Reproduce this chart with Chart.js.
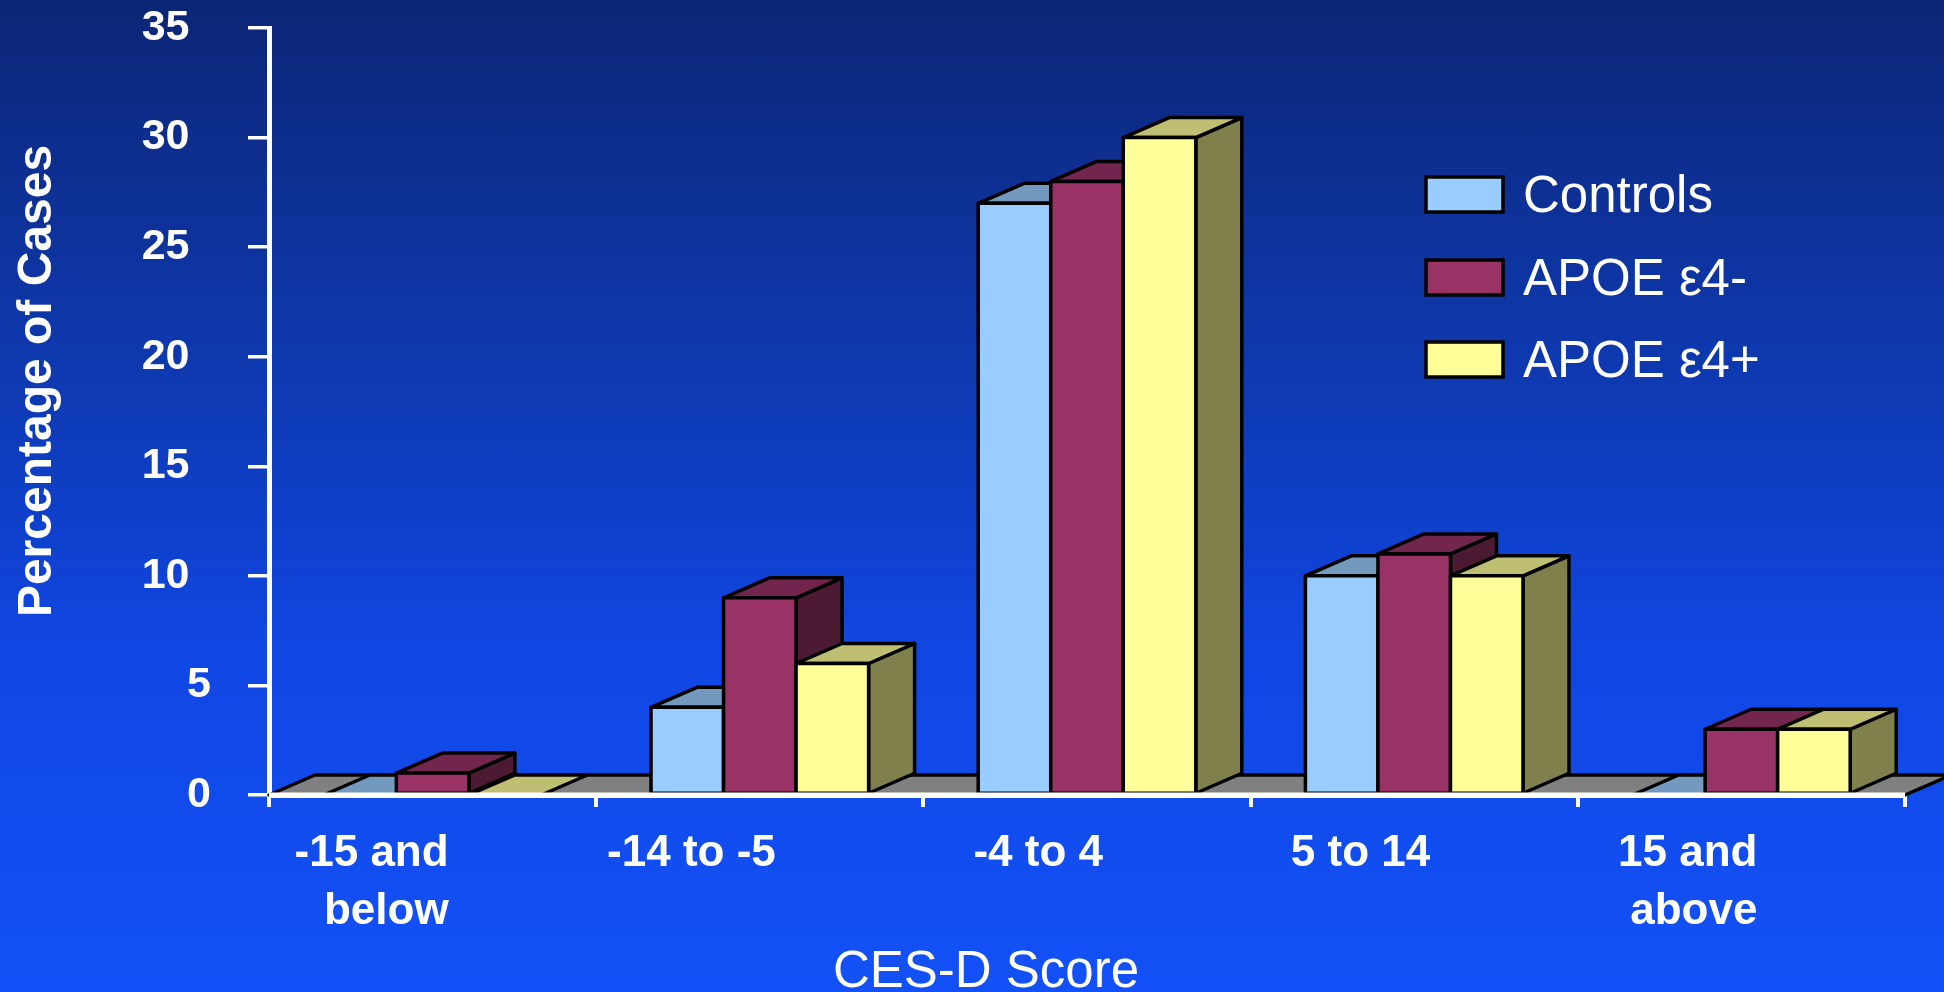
<!DOCTYPE html>
<html><head><meta charset="utf-8">
<script src="https://cdn.jsdelivr.net/npm/chart.js@4.4.1/dist/chart.umd.min.js"></script>
<style>
html,body{margin:0;padding:0;width:1944px;height:992px;overflow:hidden;
background:linear-gradient(to bottom,#0b2575 0%,#0d2e8e 15%,#0e3ab4 40%,#1046e2 65%,#1351f8 100%);}
canvas{display:block}
</style></head><body>
<canvas id="c" width="1944" height="992"></canvas>
<script>
// ---- data ----
const categories = [['-15 and','below'], '-14 to -5', '-4 to 4', '5 to 14', ['15 and','above']];
const seriesNames = ['Controls', 'APOE \u03b54-', 'APOE \u03b54+'];
const controls = [0, 4, 27, 10, 0];
const apoeNeg  = [1, 9, 28, 11, 3];
const apoePos  = [0, 6, 30, 10, 3];
const yMin = 0, yMax = 35, yStep = 5;
const xTitle = 'CES-D Score';
const yTitle = 'Percentage of Cases';

// ---- styles ----
const FONT = '"Liberation Sans", Arial, sans-serif';
const frontColors = ['#99ccff', '#993366', '#ffff99'];
const topColors   = ['#7399bf', '#73264d', '#bfbf73'];
const sideColors  = ['#4d6680', '#4d1a33', '#80804d'];
const floorColor = '#808080';
const DX = 46, DY = 20;

Chart.defaults.font.family = FONT;

function poly(ctx, pts, fill) {
  ctx.beginPath();
  ctx.moveTo(pts[0][0], pts[0][1]);
  for (let i = 1; i < pts.length; i++) ctx.lineTo(pts[i][0], pts[i][1]);
  ctx.closePath();
  ctx.fillStyle = fill; ctx.fill();
  ctx.stroke();
}

const bar3d = {
  id: 'bar3d',
  afterDatasetsDraw(chart) {
    const ctx = chart.ctx, ca = chart.chartArea, ys = chart.scales.y;
    const y0 = ys.getPixelForValue(0);
    ctx.save();
    ctx.lineWidth = 3.5; ctx.lineJoin = 'round'; ctx.strokeStyle = '#000';
    // floor
    poly(ctx, [[ca.left, y0], [ca.right, y0], [ca.right + DX, y0 - DY], [ca.left + DX, y0 - DY]], floorColor);
    const n = chart.data.labels.length;
    const bars = [];
    for (let c = 0; c < n; c++) {
      chart.data.datasets.forEach((ds, d) => {
        const el = chart.getDatasetMeta(d).data[c];
        const l = el.x - el.width / 2, r = el.x + el.width / 2;
        bars.push({d, l, r, t: el.y, b: el.base});
      });
    }
    bars.forEach(o => {
      if (o.b - o.t > 0.5) poly(ctx, [[o.r, o.b], [o.r + DX, o.b - DY], [o.r + DX, o.t - DY], [o.r, o.t]], sideColors[o.d]);
      poly(ctx, [[o.l, o.t], [o.r, o.t], [o.r + DX, o.t - DY], [o.l + DX, o.t - DY]], topColors[o.d]);
    });
    bars.forEach(o => {
      if (o.b - o.t > 0.5) poly(ctx, [[o.l, o.b], [o.r, o.b], [o.r, o.t], [o.l, o.t]], frontColors[o.d]);
    });
    // x axis line over bars
    ctx.strokeStyle = '#fff'; ctx.lineWidth = 5;
    ctx.beginPath(); ctx.moveTo(ca.left, y0); ctx.lineTo(ca.right, y0); ctx.stroke();
    ctx.restore();
  },
  afterDraw(chart) {
    const ctx = chart.ctx;
    ctx.save();
    ctx.fillStyle = '#fff';
    // axis titles
    ctx.font = '51px ' + FONT;
    ctx.textAlign = 'center'; ctx.textBaseline = 'alphabetic';
    ctx.fillText(xTitle, 986, 987);
    ctx.save();
    ctx.translate(51, 381); ctx.rotate(-Math.PI / 2);
    ctx.font = 'bold 48px ' + FONT;
    ctx.fillText(yTitle, 0, 0);
    ctx.restore();
    // legend
    const rows = [194, 277, 359];
    chart.data.datasets.forEach((ds, i) => {
      const cy = rows[i];
      ctx.fillStyle = ds.backgroundColor;
      ctx.strokeStyle = '#000'; ctx.lineWidth = 3.5;
      ctx.fillRect(1426, cy - 17, 77, 35);
      ctx.strokeRect(1426, cy - 17, 77, 35);
      ctx.fillStyle = '#fff';
      ctx.font = '51px ' + FONT;
      ctx.textAlign = 'left'; ctx.textBaseline = 'alphabetic';
      ctx.fillText(ds.label, 1523, cy + 18);
    });
    ctx.restore();
  }
};

const seriesValues = [controls, apoeNeg, apoePos];
new Chart(document.getElementById('c'), {
  type: 'bar',
  data: {
    labels: categories,
    datasets: seriesNames.map((name, i) => ({
      label: name,
      data: seriesValues[i],
      backgroundColor: frontColors[i],
      borderWidth: 0,
      categoryPercentage: 0.665,
      barPercentage: 1
    }))
  },
  options: {
    responsive: false,
    animation: false,
    events: [],
    devicePixelRatio: 1,
    layout: { padding: { top: 28, right: 39, left: 0, bottom: 0 } },
    plugins: { legend: { display: false }, tooltip: { enabled: false } },
    scales: {
      x: {
        offset: true,
        grid: { offset: true, drawOnChartArea: false, color: '#fff', lineWidth: 4, tickLength: 12 },
        border: { color: '#fff', width: 5 },
        ticks: {
          color: '#fff', font: { size: 44, weight: 'bold', lineHeight: 1.32 },
          align: 'end', labelOffset: 16, padding: 18, maxRotation: 0, autoSkip: false
        },
        afterFit(s) { s.height = 197; s.paddingLeft = 0; s.paddingRight = 0; }
      },
      y: {
        min: yMin, max: yMax,
        grid: { drawOnChartArea: false, color: '#fff', lineWidth: 3.5, tickLength: 21 },
        border: { color: '#fff', width: 5 },
        ticks: {
          stepSize: yStep, color: '#fff', font: { size: 43, weight: 'bold' }, padding: 37,
          callback: v => (v >= 10 ? v + '\u2002' : String(v))
        },
        afterFit(s) { s.width = 269; s.paddingTop = 0; s.paddingBottom = 0; }
      }
    }
  },
  plugins: [bar3d]
});
</script>
</body></html>
